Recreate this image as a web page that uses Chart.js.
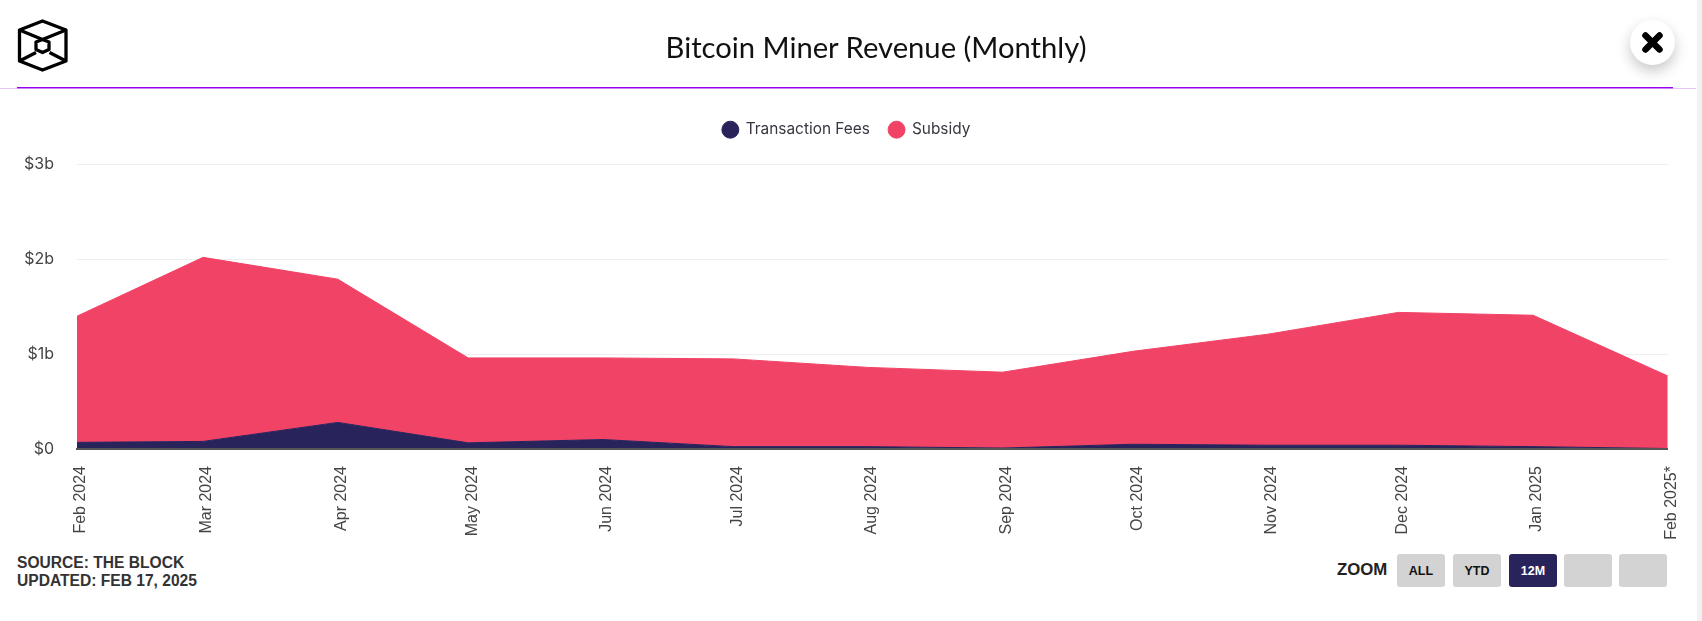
<!DOCTYPE html>
<html>
<head>
<meta charset="utf-8">
<title>Bitcoin Miner Revenue (Monthly)</title>
<script src="https://cdn.jsdelivr.net/npm/chart.js@4"></script>
<style>
    html, body { margin: 0; padding: 0; background: #fff; overflow: hidden; }
    #page { position: relative; width: 1702px; height: 621px; }
    #chart-wrap { position: absolute; left: 0; top: 0; width: 1696px; height: 551px; }
    #scrollbar { position: absolute; left: 1697px; top: 0; width: 5px; height: 621px; background: #f1f1f1; }
    #heading { position: absolute; left: 576px; top: 28px; width: 600px; margin: 0; text-align: center; font: normal 29.2px/38px Lato, sans-serif; color: #111; }
    #rule-light { position: absolute; left: 0; top: 88px; width: 1696px; height: 1px; background: #e3c4fb; }
    #rule { position: absolute; left: 17px; top: 87px; width: 1656px; height: 1px; background: #9900ee; box-shadow: 0 1px 0 #cf7ff7; }
    #logo { position: absolute; left: 0; top: 0; }
    #close { position: absolute; left: 1630px; top: 20px; width: 45px; height: 45px; border-radius: 50%; background: #fff; box-shadow: 0 6px 14px rgba(0, 0, 0, 0.22); }
    #source { position: absolute; left: 17px; top: 554px; font: bold 15.6px/18px "Liberation Sans", Arial, sans-serif; color: #333; }
    #zoom-label { position: absolute; left: 1337px; top: 561px; font: bold 16.8px/18px "Liberation Sans", Arial, sans-serif; color: #222; }
    .btn { position: absolute; top: 554px; width: 48px; height: 33px; border-radius: 3px; background: #d3d3d3; color: #111; font: bold 12.5px/35px "Liberation Sans", Arial, sans-serif; text-align: center; }
    .btn.active { background: #29235c; color: #fff; }
</style>
</head>
<body>
<div id="page">
    <div id="chart-wrap"><canvas id="revenueChart"></canvas></div>
    <h1 id="heading">Bitcoin Miner Revenue (Monthly)</h1>
    <div id="rule-light"></div>
    <div id="rule"></div>
    <svg id="logo" width="80" height="80" viewBox="0 0 80 80" fill="none" stroke="#000" stroke-width="3.3" stroke-linejoin="round">
        <polygon points="42.5,21 66,30 66,61 42.5,70 19.5,61 19.5,30"/>
        <polyline points="19.5,30 42.5,39.5 66,30"/>
        <polyline points="19.5,61 36,52.5"/>
        <polyline points="66,61 49.5,52.5"/>
        <polygon points="42.5,39.5 49,42 49,49.5 42.5,52.5 36,49.5 36,42"/>
    </svg>
    <div id="close">
        <svg width="45" height="45" viewBox="0 0 45 45" stroke="#000" stroke-width="6.5" stroke-linecap="round">
            <line x1="15.5" y1="15.5" x2="29.5" y2="29.5"/>
            <line x1="29.5" y1="15.5" x2="15.5" y2="29.5"/>
        </svg>
    </div>
    <div id="scrollbar"></div>
    <div id="source">SOURCE: THE BLOCK<br>UPDATED: FEB 17, 2025</div>
    <div id="zoom-label">ZOOM</div>
    <div class="btn" style="left:1397px">ALL</div>
    <div class="btn" style="left:1453px">YTD</div>
    <div class="btn active" style="left:1509px">12M</div>
    <div class="btn" style="left:1564px"></div>
    <div class="btn" style="left:1619px"></div>
</div>

<script>
// Month labels and their day position from 1 Feb 2024
const months = ["Feb 2024", "Mar 2024", "Apr 2024", "May 2024", "Jun 2024", "Jul 2024", "Aug 2024", "Sep 2024", "Oct 2024", "Nov 2024", "Dec 2024", "Jan 2025", "Feb 2025*"];
const monthDays = [0, 29, 60, 90, 121, 151, 182, 213, 243, 274, 304, 335, 366];

// Billions of USD
const transactionFees = [0.07, 0.08, 0.28, 0.065, 0.10, 0.025, 0.025, 0.01, 0.05, 0.04, 0.04, 0.025, 0.005];
const subsidy = [1.33, 1.94, 1.51, 0.895, 0.86, 0.925, 0.835, 0.80, 0.98, 1.17, 1.40, 1.385, 0.765];

const yTicks = [0, 1, 2, 3];
const yTickLabels = ["$0", "$1b", "$2b", "$3b"];

function toPoints(values) {
    return values.map((v, i) => ({ x: monthDays[i], y: v }));
}

// Extra room under the legend
const legendGap = {
    id: "legendGap",
    beforeInit(chart) {
        const fit = chart.legend.fit;
        chart.legend.fit = function () {
            fit.call(this);
            this.height += 17;
        };
    }
};

new Chart(document.getElementById("revenueChart").getContext("2d"), {
    type: "line",
    plugins: [legendGap],
    data: {
        datasets: [{
            label: "Transaction Fees",
            data: toPoints(transactionFees),
            borderColor: "#29235c",
            backgroundColor: "#29235c",
            borderWidth: 1,
            pointRadius: 0,
            tension: 0,
            fill: "origin"
        }, {
            label: "Subsidy",
            data: toPoints(subsidy),
            borderColor: "#f14366",
            backgroundColor: "#f14366",
            borderWidth: 1,
            pointRadius: 0,
            tension: 0,
            fill: "-1"
        }]
    },
    options: {
        responsive: true,
        maintainAspectRatio: false,
        animation: false,
        layout: { padding: { left: 24, right: 27, top: 103, bottom: 0 } },
        plugins: {
            tooltip: { enabled: false },
            title: { display: false },
            legend: {
                display: true,
                position: "top",
                labels: {
                    usePointStyle: true,
                    pointStyle: "circle",
                    boxHeight: 12,
                    boxWidth: 16,
                    padding: 19,
                    color: "#3a3540",
                    font: { family: "Inter, sans-serif", size: 15.4 }
                }
            }
        },
        scales: {
            x: {
                type: "linear",
                min: monthDays[0],
                max: monthDays[monthDays.length - 1],
                afterBuildTicks: axis => {
                    axis.ticks = monthDays.map(d => ({ value: d }));
                },
                afterFit: axis => {
                    axis.height = 102;
                },
                grid: { display: false },
                border: { display: true, color: "#555", width: 2, z: 1 },
                ticks: {
                    autoSkip: false,
                    minRotation: 90,
                    maxRotation: 90,
                    padding: 9,
                    labelOffset: 4,
                    color: "#444",
                    font: { family: "'Liberation Sans', Arial, sans-serif", size: 16 },
                    callback: (value, index) => months[index]
                }
            },
            y: {
                stacked: true,
                min: yTicks[0],
                max: yTicks[yTicks.length - 1],
                afterBuildTicks: axis => {
                    axis.ticks = yTicks.map(v => ({ value: v }));
                },
                afterFit: axis => {
                    axis.width = 53;
                },
                grid: { color: "#eeeeee", drawTicks: false },
                border: { display: false },
                ticks: {
                    padding: 23,
                    color: "#444",
                    font: { family: "Inter, sans-serif", size: 16 },
                    callback: (value, index) => yTickLabels[index]
                }
            }
        }
    }
});
</script>
</body>
</html>
